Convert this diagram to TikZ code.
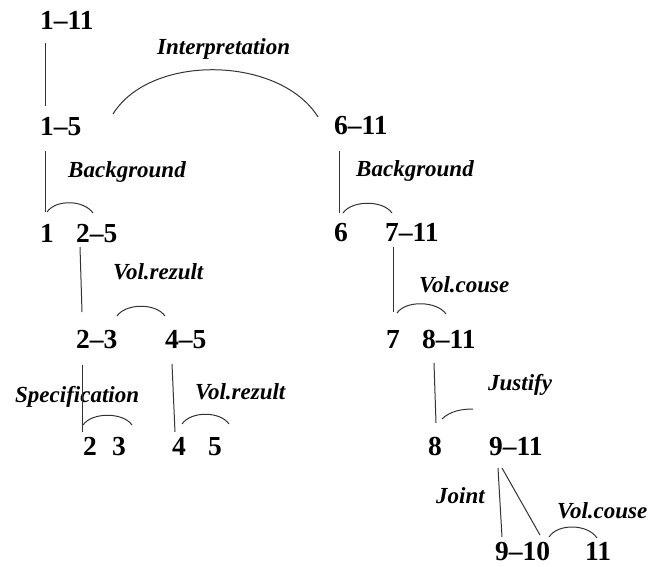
\documentclass[tikz,border=0pt]{standalone}
\usepackage{fontspec}
\setmainfont{Liberation Serif}
\usetikzlibrary{calc}
\newcommand{\numfont}{\fontsize{27.5}{30}\selectfont\bfseries}
\newcommand{\relfont}{\fontsize{23}{25}\selectfont\bfseries\itshape}
\begin{document}
\begin{tikzpicture}[x=1pt,y=-1pt,
  num/.style={font=\numfont, anchor=base west, inner sep=0pt},
  rel/.style={font=\relfont, anchor=base west, inner sep=0pt},
  link/.style={line width=1pt, draw=black!80}]
\useasboundingbox (0,0) rectangle (648,566);

% text spans
\node[num] (n111) at (40,29)  {1–11};
\node[num] (n15)  at (40,135) {1–5};
\node[num] (n611) at (334,134) {6–11};
\node[num] (n1)   at (40,242) {1};
\node[num] (n25)  at (76,242) {2–5};
\node[num] (n6)   at (334,241) {6};
\node[num] (n711) at (385,241) {7–11};
\node[num] (n23)  at (76,348) {2–3};
\node[num] (n45)  at (165,348) {4–5};
\node[num] (n7)   at (386,348) {7};
\node[num] (n811) at (422,348) {8–11};
\node[num] (n2)   at (83,455) {2};
\node[num] (n3)   at (112,455) {3};
\node[num] (n4)   at (172,455) {4};
\node[num] (n5)   at (208,455) {5};
\node[num] (n8)   at (428,455) {8};
\node[num] (n911) at (489,455) {9–11};
\node[num] (n910) at (495,560) {9–10};
\node[num] (n11)  at (585,560) {11};

% relation names
\node[rel] (rInt)  at (157,54)  {Interpretation};
\node[rel] (rBg1)  at (68,177)  {Background};
\node[rel] (rBg2)  at (356,176) {Background};
\node[rel] (rRez1) at (113,279) {Vol.rezult};
\node[rel] (rCau1) at (419,292) {Vol.couse};
\node[rel] (rSpec) at (15,402)  {Specification};
\node[rel] (rRez2) at (195,399) {Vol.rezult};
\node[rel] (rJust) at (488,390) {Justify};
\node[rel] (rJoin) at (436,503) {Joint};
\node[rel] (rCau2) at (557,518) {Vol.couse};

% nucleus lines
\draw[link] ($(n111.base west)+(5,14)$) -- ($(n15.base west)+(5,-29)$);
\draw[link] ($(n15.base west)+(5,16)$) -- ($(n1.base west)+(5,-30)$);
\draw[link] ($(n611.base west)+(5,17)$) -- ($(n6.base west)+(5,-28)$);
\draw[link] ($(n25.base west)+(4,5)$) -- ($(n23.base west)+(6,-36)$);
\draw[link] ($(n711.base west)+(8,6)$) -- ($(n7.base west)+(7,-36)$);
\draw[link] ($(n23.base west)+(6,17)$) -- ($(n2.base west)+(-1,-23)$);
\draw[link] ($(n45.base west)+(7,16)$) -- ($(n4.base west)+(3,-23)$);
\draw[link] ($(n811.base west)+(12,15)$) -- ($(n8.base west)+(8,-32)$);
\draw[link] ($(n911.base west)+(9,13)$) -- ($(n910.base west)+(7,-23)$);
\draw[link] ($(n911.base west)+(13,13)$) -- ($(n910.base west)+(45,-25)$);

% relation arcs
\draw[link] ($(n15.base west)+(73,-21)$) .. controls +(38,-61) and +(-38,-61) .. ($(n611.base west)+(-16,-17)$);
\draw[link] ($(n1.base west)+(7,-30)$) .. controls +(9,-13) and +(-9,-13) .. ($(n25.base west)+(17,-29)$);
\draw[link] ($(n6.base west)+(9,-28)$) .. controls +(9,-13) and +(-9,-13) .. ($(n711.base west)+(7,-28)$);
\draw[link] ($(n23.base west)+(41,-32)$) .. controls +(9,-13) and +(-9,-13) .. ($(n45.base west)+(0,-32)$);
\draw[link] ($(n7.base west)+(11,-35)$) .. controls +(9,-13) and +(-9,-13) .. ($(n811.base west)+(24,-34)$);
\draw[link] ($(n2.base west)+(0,-30)$) .. controls +(9,-13) and +(-9,-13) .. ($(n3.base west)+(20,-30)$);
\draw[link] ($(n4.base west)+(10,-31)$) .. controls +(9,-13) and +(-9,-13) .. ($(n5.base west)+(21,-31)$);
\draw[link] ($(n8.base west)+(14,-36)$) .. controls +(8,-8) and +(-11,0) .. ($(n911.base west)+(-16,-46)$);
\draw[link] ($(n910.base west)+(54,-23)$) .. controls +(9,-14) and +(-9,-14) .. ($(n11.base west)+(12,-22)$);
\end{tikzpicture}
\end{document}
